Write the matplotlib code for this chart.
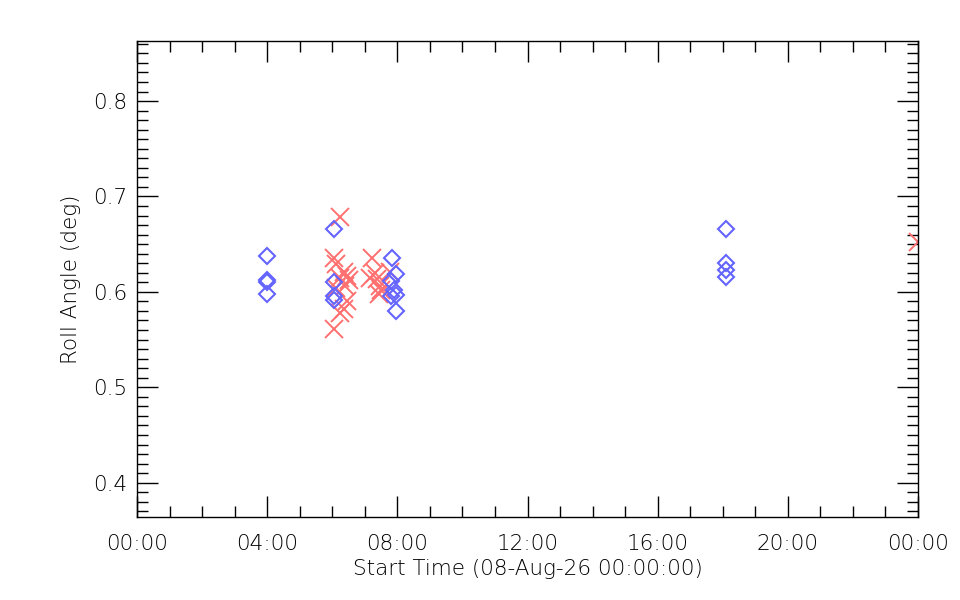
import matplotlib
matplotlib.use("Agg")
import matplotlib.pyplot as plt
from matplotlib.ticker import MultipleLocator, FuncFormatter

# -----------------------------
# data (hours after 08-Aug-26 00:00, roll angle in deg)
# -----------------------------
blue_hours = [4.0, 4.0, 4.0, 4.0,
              6.05, 6.05, 6.05, 6.05,
              7.84, 7.95, 7.8, 7.9, 7.95, 7.8, 7.95,
              18.1, 18.1, 18.1, 18.1]
blue_roll = [0.638, 0.612, 0.610, 0.598,
             0.666, 0.610, 0.596, 0.591,
             0.636, 0.619, 0.611, 0.602, 0.597, 0.596, 0.580,
             0.666, 0.630, 0.623, 0.616]

red_hours = [6.25, 6.05, 6.12, 6.35, 6.45, 6.25, 6.5, 6.4, 6.1, 6.45, 6.35, 6.25, 6.05,
             7.22, 7.16, 7.38, 7.47, 7.3, 7.77, 7.45, 7.5,
             24.0]
red_roll = [0.679, 0.636, 0.629, 0.621, 0.617, 0.615, 0.612, 0.606, 0.604, 0.590, 0.582, 0.578, 0.561,
            0.636, 0.615, 0.613, 0.606, 0.620, 0.621, 0.598, 0.602,
            0.652]

x_ticks = [0, 4, 8, 12, 16, 20, 24]

# -----------------------------
# plot
# -----------------------------
fig = plt.figure(figsize=(9.6, 6), dpi=100)
ax = fig.add_axes([137 / 960, 1 - 517 / 600, 781 / 960, 476 / 600])

ax.plot(red_hours, red_roll, linestyle="none", marker="x", color="#ff7070",
        markersize=13, markeredgewidth=1.4)
ax.plot(blue_hours, blue_roll, linestyle="none", marker="D", markerfacecolor="none",
        markeredgecolor="#6464ff", markersize=8.5, markeredgewidth=1.5)

ax.set_xlim(0, 24)
ax.set_ylim(0.364, 0.863)
ax.set_xticks(x_ticks)
ax.xaxis.set_minor_locator(MultipleLocator(1))
ax.yaxis.set_major_locator(MultipleLocator(0.1))
ax.yaxis.set_minor_locator(MultipleLocator(0.01))
ax.xaxis.set_major_formatter(FuncFormatter(lambda v, p: "%02d:00" % (int(round(v)) % 24)))
ax.yaxis.set_major_formatter(FuncFormatter(lambda v, p: "%.1f" % v))

ax.tick_params(which="both", direction="in", top=True, right=True, colors="black",
               labelsize=15.5)
ax.tick_params(which="major", length=15, width=1)
ax.tick_params(which="minor", length=8, width=1)
ax.tick_params(axis="x", pad=12)
ax.tick_params(axis="y", pad=7)
for s in ax.spines.values():
    s.set_linewidth(1)

ax.set_xlabel("Start Time (08-Aug-26 00:00:00)", fontsize=15.5, fontweight="light",
              labelpad=4)
ax.set_ylabel("Roll Angle (deg)", fontsize=15.5, fontweight="light", labelpad=9)

for t in ax.get_xticklabels() + ax.get_yticklabels():
    t.set_fontweight("light")

fig.savefig("out.png", dpi=100)
